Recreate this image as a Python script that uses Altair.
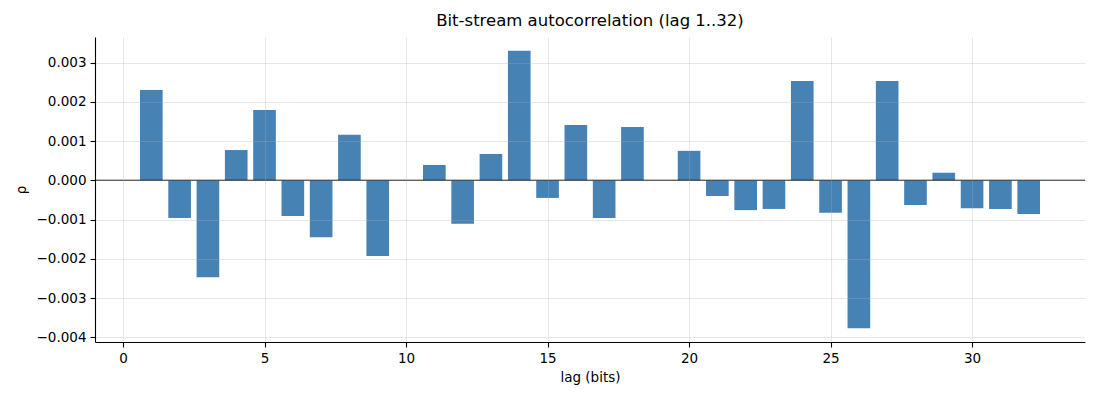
import altair as alt
import pandas as pd

lags = list(range(1, 33))
rho = [0.00230, -0.00096, -0.00247, 0.00077, 0.00179, -0.00091, -0.00145, 0.00116, -0.00193, 0.0,
       0.00039, -0.00111, 0.00067, 0.00330, -0.00045, 0.00141, -0.00096, 0.00136, 0.0, 0.00075,
       -0.00040, -0.00076, -0.00073, 0.00253, -0.00083, -0.00377, 0.00253, -0.00063, 0.00019, -0.00071,
       -0.00073, -0.00086]
x_ticks = [0, 5, 10, 15, 20, 25, 30]
y_ticks = [-0.004, -0.003, -0.002, -0.001, 0.0, 0.001, 0.002, 0.003]

df = pd.DataFrame({"lag": lags, "rho": rho})
zero = pd.DataFrame({"y": [0.0]})

FONT = "DejaVu Sans"

xscale = alt.Scale(domain=[-0.99, 33.99], nice=False, zero=False)
yscale = alt.Scale(domain=[-0.00412, 0.00365], nice=False, zero=False)

bars = alt.Chart(df).transform_calculate(
    x0="datum.lag - 0.4", x1="datum.lag + 0.4"
).mark_rect(color="#4682b4").encode(
    x=alt.X("x0:Q", scale=xscale, title="lag (bits)",
            axis=alt.Axis(values=x_ticks, format="d", zindex=1)),
    x2="x1:Q",
    y=alt.Y("rho:Q", scale=yscale, title="ρ",
            axis=alt.Axis(values=y_ticks, format=".3f", zindex=1)),
    y2=alt.datum(0),
)

rule = alt.Chart(zero).mark_rule(color="#000000", strokeWidth=1.1).encode(
    y=alt.Y("y:Q", scale=yscale)
)

chart = alt.layer(bars, rule).properties(
    width=990, height=305,
    title=alt.TitleParams("Bit-stream autocorrelation (lag 1..32)", font=FONT, fontSize=16.5,
                          fontWeight="normal", color="#000000", anchor="middle", offset=8),
    autosize=alt.AutoSizeParams(type="none"),
    padding={"left": 87, "top": 29, "right": 7, "bottom": 50},
).configure_view(stroke=None).configure_axis(
    labelFont=FONT, titleFont=FONT, labelFontSize=13.5, titleFontSize=13.5,
    labelColor="#000000", titleColor="#000000", titleFontWeight="normal",
    domainColor="#000000", domainWidth=1.1, tickColor="#000000", tickWidth=1.1, tickSize=5,
    labelPadding=4, gridColor="#b0b0b0", gridOpacity=0.3, gridWidth=1,
).configure_axisX(titlePadding=6, labelFlush=False).configure_axisY(titlePadding=8)

chart.save("out.html", embed_options={"renderer": "svg", "actions": False})
